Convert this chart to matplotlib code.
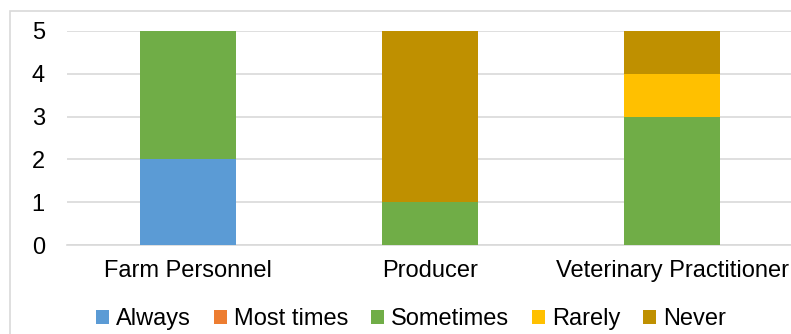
import matplotlib.pyplot as plt
import numpy as np
from matplotlib.patches import Rectangle

plt.rcParams["font.family"] = ["Liberation Sans", "DejaVu Sans"]

categories = ["Farm Personnel", "Producer", "Veterinary Practitioner"]
series_names = ["Always", "Most times", "Sometimes", "Rarely", "Never"]
always = [2, 0, 0]
most_times = [0, 0, 0]
sometimes = [3, 1, 3]
rarely = [0, 0, 1]
never = [0, 4, 1]
colors = ["#5B9BD5", "#ED7D31", "#70AD47", "#FFC000", "#BF9000"]

W, H = 791, 334
fig = plt.figure(figsize=(W / 100, H / 100), dpi=100)

# outer chart frame (cut off at right/bottom like the reference)
fig.patches.append(Rectangle((10 / W, -0.5), 2, 1.5 - 10.5 / H,
                             transform=fig.transFigure, fill=False,
                             edgecolor="#D9D9D9", linewidth=1.2))

ax = fig.add_axes([67 / W, (H - 245) / H, 726 / W, 214 / H])

x = np.arange(len(categories))
bottom = np.zeros(len(categories))
handles = []
for name, vals, c in zip(series_names, [always, most_times, sometimes, rarely, never], colors):
    b = ax.bar(x, vals, width=0.4, bottom=bottom, color=c, label=name, zorder=3)
    handles.append(b)
    bottom += np.array(vals)

ax.set_xlim(-0.5, 2.5)
ax.set_ylim(0, 5)
ax.set_yticks(range(6))
ax.set_xticks(x)
ax.set_xticklabels(categories)
ax.grid(axis="y", color="#D9D9D9", linewidth=1.2, zorder=0)
for s in ["top", "right", "left"]:
    ax.spines[s].set_visible(False)
ax.spines["bottom"].set_color("#D9D9D9")
ax.spines["bottom"].set_linewidth(1.2)
ax.tick_params(axis="both", length=0, labelsize=17, colors="black")
ax.tick_params(axis="y", pad=16)
ax.tick_params(axis="x", pad=11)

fig.legend(handles=handles, labels=series_names, loc="center",
           bbox_to_anchor=(411 / W, 1 - 319 / H), ncol=5, frameon=False,
           fontsize=17, handlelength=0.55, handleheight=0.55, handletextpad=0.3,
           columnspacing=0.97, borderaxespad=0)

fig.savefig("out.png", dpi=100)
